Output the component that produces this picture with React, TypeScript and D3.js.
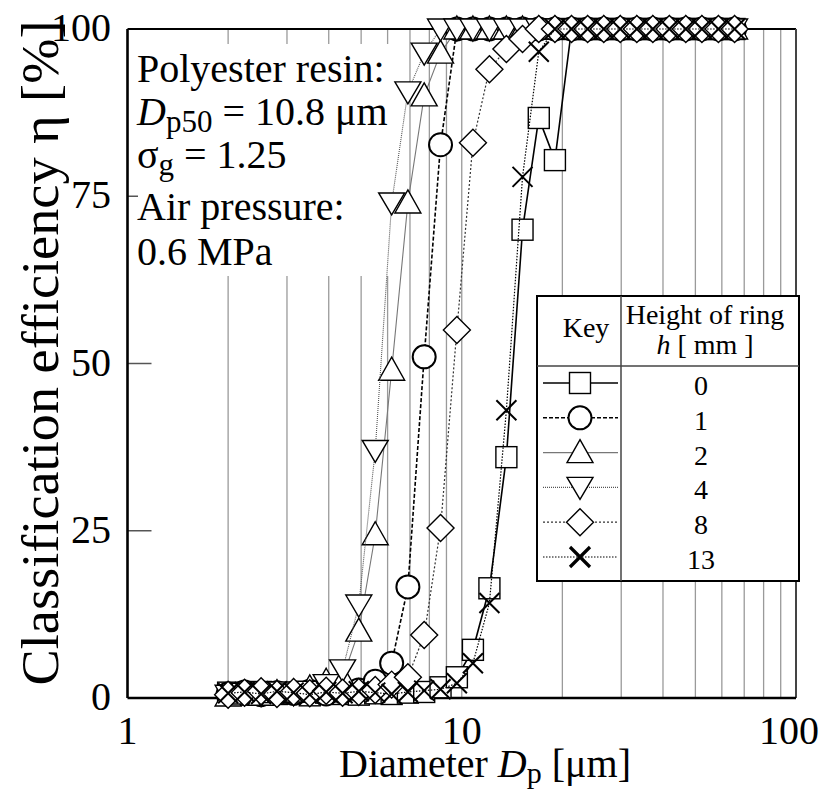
import React from 'react'
import * as d3 from 'd3'

// particle size bins [um]
const diameters = [2.0, 2.24, 2.51, 2.8, 3.14, 3.51, 3.93, 4.4, 4.92, 5.51, 6.17, 6.9, 7.72, 8.64, 9.67, 10.8,
  12.1, 13.6, 15.2, 17.0, 19.0, 21.3, 23.8, 26.6, 29.8, 33.4, 37.3, 41.8, 46.8, 52.3, 58.6, 65.5]

// classification efficiency [%] for each ring height
const eff0 = [0.8, 0.5, 0.9, 0.6, 0.7, 0.4, 0.8, 0.6, 0.5, 0.7, 0.6, 0.8, 0.9, 1.6, 3.1, 7.2,
  16.4, 36, 70, 86.7, 80.4, 100, 100, 100, 100, 100, 100, 100, 100, 100, 100, 100]
const eff1 = [0.6, 0.9, 0.5, 0.8, 0.7, 1.0, 0.6, 0.9, 1.2, 2.5, 5.2, 16.6, 51, 82.7, 100, 100,
  100, 100, 100, 100, 100, 100, 100, 100, 100, 100, 100, 100, 100, 100, 100, 100]
const eff2 = [0.3, 0.6, 0.4, 0.8, 0.9, 1.5, 2.5, 3.0, 10, 24.4, 49, 74, 90, 96.4, 100, 100,
  100, 100, 100, 100, 100, 100, 100, 100, 100, 100, 100, 100, 100, 100, 100, 100]
const eff4 = [0.4, 0.7, 0.5, 0.9, 0.6, 1.0, 2.0, 4.2, 13.9, 37, 74, 90.6, 96.4, 100, 100, 100,
  100, 100, 100, 100, 100, 100, 100, 100, 100, 100, 100, 100, 100, 100, 100, 100]
const eff8 = [0.5, 0.8, 1.0, 0.6, 0.9, 0.7, 1.1, 0.8, 0.9, 1.2, 2.0, 3.1, 9.4, 25.4, 55, 83,
  94, 97, 98.5, 100, 100, 100, 100, 100, 100, 100, 100, 100, 100, 100, 100, 100]
const eff13 = [0.7, 0.9, 0.6, 1.0, 0.8, 0.5, 0.9, 0.7, 1.0, 0.8, 0.6, 0.9, 1.1, 1.3, 2.2, 5.2,
  14.2, 43, 77.9, 96.6, 100, 100, 100, 100, 100, 100, 100, 100, 100, 100, 100, 100]

const ringHeights = ['0', '1', '2', '4', '8', '13']
const yTicks = [0, 25, 50, 75, 100]
const xTicks = [1, 10, 100]
const gridValues = [2, 3, 4, 5, 6, 7, 8, 9, 20, 30, 40, 50, 60, 70, 80, 90]

const W = 831, H = 789
const serif = '"Liberation Serif", Tinos, "Times New Roman", Times, serif'

const x = d3.scaleLog().domain([1, 100]).range([127.5, 796])
const y = d3.scaleLinear().domain([0, 100]).range([698, 29])

const series = [
  { values: eff0, shape: 'square', stroke: '#000', width: 1.6, dash: undefined },
  { values: eff1, shape: 'circle', stroke: '#000', width: 1.6, dash: '4,2' },
  { values: eff2, shape: 'up', stroke: '#777', width: 1.1, dash: undefined },
  { values: eff4, shape: 'down', stroke: '#555', width: 1.1, dash: '1,1' },
  { values: eff8, shape: 'diamond', stroke: '#333', width: 1.2, dash: '2,2' },
  { values: eff13, shape: 'cross', stroke: '#000', width: 1.2, dash: '1.5,1.5' },
]

function Marker({ shape, cx, cy, legend }: { shape: string, cx: number, cy: number, legend?: boolean }) {
  const common = { fill: '#fff', stroke: '#000', strokeWidth: 1.4 }
  if (shape === 'square') return <rect x={cx - 10.5} y={cy - 10.5} width={21} height={21} {...common} />
  if (shape === 'circle') return <circle cx={cx} cy={cy} r={11.5} {...common} strokeWidth={2} />
  if (shape === 'up') return <path d={`M${cx},${cy - 13}L${cx + 13},${cy + 10}L${cx - 13},${cy + 10}Z`} {...common} />
  if (shape === 'down') return <path d={`M${cx},${cy + 12}L${cx + 13},${cy - 10}L${cx - 13},${cy - 10}Z`} {...common} />
  if (shape === 'diamond') return <path d={`M${cx},${cy - 13.5}L${cx + 13.5},${cy}L${cx},${cy + 13.5}L${cx - 13.5},${cy}Z`} {...common} />
  return <path d={`M${cx - 10},${cy - 10}L${cx + 10},${cy + 10}M${cx + 10},${cy - 10}L${cx - 10},${cy + 10}`}
    stroke="#000" strokeWidth={legend ? 3.2 : 2} fill="none" />
}

export default function App() {
  const line = d3.line<number>().x((d, i) => x(diameters[i])).y(d => y(d))
  const left = x.range()[0], right = x.range()[1]
  const top = y.range()[1], bottom = y.range()[0]

  // legend geometry
  const lg = { x: 537, y: 296, w: 262, h: 285, col: 621, head: 366 }
  const rowY = (i: number) => 385 + i * 34.8

  return (
    <svg width={W} height={H} style={{ position: 'absolute', left: 0, top: 0, background: '#fff', fontFamily: serif }}>
      <rect width={W} height={H} fill="#fff" />

      {/* vertical grid */}
      {gridValues.map(v => (
        <line key={v} x1={x(v)} x2={x(v)} y1={top} y2={bottom} stroke="#9a9a9a" strokeWidth={1.3} />
      ))}
      <line x1={x(10)} x2={x(10)} y1={top} y2={bottom} stroke="#9a9a9a" strokeWidth={1.3} />

      {/* inner y ticks */}
      {[25, 50, 75].map(v => (
        <line key={v} x1={left} x2={left + 24} y1={y(v)} y2={y(v)} stroke="#555" strokeWidth={1.5} />
      ))}

      {/* frame */}
      <line x1={left} x2={right} y1={top} y2={top} stroke="#000" strokeWidth={2} />
      <line x1={right} x2={right} y1={top} y2={bottom} stroke="#444" strokeWidth={2} />
      <line x1={left} x2={left} y1={top} y2={bottom} stroke="#000" strokeWidth={2.6} />
      <line x1={left} x2={right} y1={bottom} y2={bottom} stroke="#000" strokeWidth={2.6} />

      {/* condition text box */}
      <rect x={138} y={44} width={262} height={232} fill="#fff" />
      <g fontSize={40} fill="#000">
        <text x={137} y={82}>Polyester resin:</text>
        <text x={137} y={125}>
          <tspan fontStyle="italic">D</tspan>
          <tspan fontSize={31} dy={7}>p50</tspan>
          <tspan dy={-7}> = 10.8 μm</tspan>
        </text>
        <text x={137} y={168}>
          <tspan>σ</tspan>
          <tspan fontSize={31} dy={7}>g</tspan>
          <tspan dy={-7}> = 1.25</tspan>
        </text>
        <text x={137} y={220}>Air pressure:</text>
        <text x={137} y={265}>0.6 MPa</text>
      </g>

      {/* legend box */}
      <rect x={lg.x} y={lg.y} width={lg.w} height={lg.h} fill="#fff" stroke="#000" strokeWidth={2} />
      <line x1={lg.col} x2={lg.col} y1={lg.y} y2={lg.y + lg.h} stroke="#444" strokeWidth={1.5} />
      <line x1={lg.x} x2={lg.x + lg.w} y1={lg.head} y2={lg.head} stroke="#444" strokeWidth={1.5} />
      <g fontSize={28} fill="#000" textAnchor="middle">
        <text x={586} y={337}>Key</text>
        <text x={705} y={324}>Height of ring</text>
        <text x={705} y={354}><tspan fontStyle="italic">h</tspan> [ mm ]</text>
        {ringHeights.map((h, i) => (
          <text key={h} x={701} y={rowY(i) + 10}>{h}</text>
        ))}
      </g>
      {series.map((s, i) => (
        <g key={i}>
          <line x1={543} x2={618} y1={rowY(i) - 2} y2={rowY(i) - 2} stroke={s.stroke} strokeWidth={s.width}
            strokeDasharray={s.dash} />
          <Marker shape={s.shape} cx={580} cy={rowY(i) - 2} legend />
        </g>
      ))}

      {/* data */}
      {series.map((s, i) => (
        <g key={i}>
          <path d={line(s.values) || ''} fill="none" stroke={s.stroke} strokeWidth={s.width}
            strokeDasharray={s.dash} />
          {s.values.map((v, j) => (
            <Marker key={j} shape={s.shape} cx={x(diameters[j])} cy={y(v)} />
          ))}
        </g>
      ))}

      {/* axis labels */}
      <g fontSize={40} fill="#000">
        {yTicks.map(t => (
          <text key={t} x={111} y={y(t) + 12} textAnchor="end">{t}</text>
        ))}
        {xTicks.map(t => (
          <text key={t} x={t === 100 ? x(t) - 7 : x(t)} y={744} textAnchor="middle">{t}</text>
        ))}
        <text x={485} y={777} textAnchor="middle">
          Diameter <tspan fontStyle="italic">D</tspan><tspan fontSize={30} dy={6}>p</tspan><tspan dy={-6}> [μm]</tspan>
        </text>
        <text transform="rotate(-90)" x={-353} y={58} textAnchor="middle" fontSize={52}
          textLength={665} lengthAdjust="spacingAndGlyphs">Classification efficiency η [%]</text>
      </g>
    </svg>
  )
}
